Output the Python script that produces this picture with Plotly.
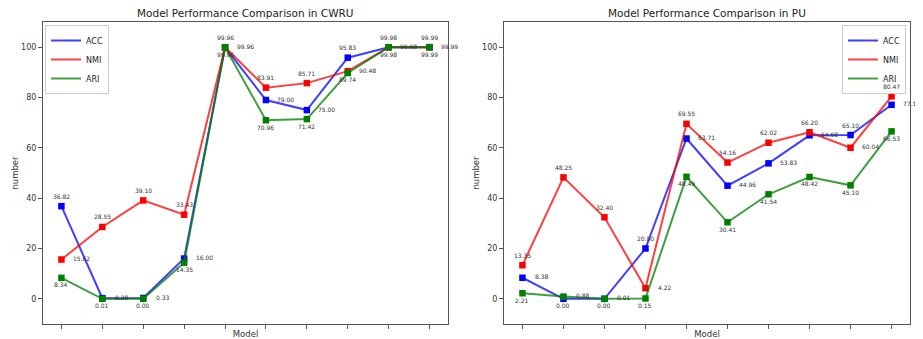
import plotly.graph_objects as go

models = list(range(10))
series_names = ["ACC", "NMI", "ARI"]
colors = {"ACC": "#0000ff", "NMI": "#ff0000", "ARI": "#008000"}

cwru_acc = [36.82, 0.28, 0.33, 16.00, 99.96, 79.00, 75.00, 95.83, 99.98, 99.99]
cwru_nmi = [15.62, 28.55, 39.10, 33.43, 99.96, 83.91, 85.71, 90.48, 99.98, 99.99]
cwru_ari = [8.34, 0.01, 0.00, 14.35, 99.96, 70.96, 71.42, 89.74, 99.98, 99.99]

pu_acc = [8.38, 0.00, 0.01, 20.00, 63.71, 44.96, 53.83, 64.98, 65.10, 77.10]
pu_nmi = [13.35, 48.25, 32.40, 4.22, 69.55, 54.16, 62.02, 66.20, 60.04, 80.47]
pu_ari = [2.21, 0.88, 0.00, 0.15, 48.49, 30.41, 41.54, 48.42, 45.10, 66.53]

y_ticks = [0, 20, 40, 60, 80, 100]

panels = [
    ("Model Performance Comparison in CWRU", {"ACC": cwru_acc, "NMI": cwru_nmi, "ARI": cwru_ari}, "x", "y", "legend"),
    ("Model Performance Comparison in PU", {"ACC": pu_acc, "NMI": pu_nmi, "ARI": pu_ari}, "x2", "y2", "legend2"),
]

# page has an 8px body margin; the figure is sized/positioned to compensate
OFF = 8
W, H = 923 - OFF, 339 - OFF


def px_x(p):
    return (p - OFF) / W


def px_y(p):
    return 1 - (p - OFF) / H


fig = go.Figure()
annotations = []
domains_x = [[px_x(43), px_x(448)], [px_x(504), px_x(910)]]
dom_y = [px_y(324), px_y(22)]

for pi, (title, data, xa, ya, lg) in enumerate(panels):
    for name in series_names:
        fig.add_trace(go.Scatter(
            x=models, y=data[name], mode="lines", name=name,
            line=dict(color=colors[name], width=2), opacity=0.75,
            xaxis=xa, yaxis=ya, legend=lg, showlegend=True))
        fig.add_trace(go.Scatter(
            x=models, y=data[name], mode="markers", name=name,
            marker=dict(color=colors[name], symbol="square", size=6.5),
            xaxis=xa, yaxis=ya, showlegend=False, hoverinfo="skip"))
    # value labels: highest above, middle to the right, lowest below
    for i in models:
        vals = sorted([(data[n][i], k, n) for k, n in enumerate(series_names)], key=lambda t: (-t[0], t[1]))
        shifts = [(0, 10), (20, 1), (0, -7)]
        for (v, k, n), (dx, dy) in zip(vals, shifts):
            annotations.append(dict(
                x=i, y=v, xref=xa, yref=ya, text=f"{v:.2f}", showarrow=False,
                xshift=dx, yshift=dy, font=dict(size=6, color="#333333")))
    cx = (domains_x[pi][0] + domains_x[pi][1]) / 2
    annotations.append(dict(x=cx, y=px_y(13), xref="paper", yref="paper", text=title,
                            showarrow=False, font=dict(size=10.5, color="#222222"),
                            xanchor="center", yanchor="middle"))

axis_common = dict(showline=True, linecolor="#555555", linewidth=1, mirror=True,
                   showgrid=False, zeroline=False, ticks="outside", ticklen=4,
                   tickcolor="#555555", tickfont=dict(size=8, color="#333333"))

layout_axes = {}
for pi in range(2):
    sx = "" if pi == 0 else "2"
    layout_axes[f"xaxis{sx}"] = dict(axis_common, domain=domains_x[pi], range=[-0.45, 9.45],
                                    tickvals=models, ticktext=["" for _ in models],
                                    anchor=f"y{sx}",
                                    title=dict(text="Model", font=dict(size=8.5, color="#333333"), standoff=5))
    layout_axes[f"yaxis{sx}"] = dict(axis_common, domain=dom_y, range=[-10, 110],
                                    tickvals=y_ticks, anchor=f"x{sx}",
                                    title=dict(text="number", font=dict(size=8.5, color="#333333"), standoff=1))

legend_common = dict(bordercolor="#cccccc", borderwidth=1, bgcolor="rgba(255,255,255,0.8)",
                     font=dict(size=8, color="#222222"), tracegroupgap=0, itemwidth=30)

fig.update_layout(
    width=W, height=H, margin=dict(l=0, r=0, t=0, b=0),
    paper_bgcolor="white", plot_bgcolor="white",
    font=dict(family="DejaVu Sans"),
    annotations=annotations,
    legend=dict(legend_common, x=px_x(45), y=px_y(25), xanchor="left", yanchor="top"),
    legend2=dict(legend_common, x=px_x(906), y=px_y(25), xanchor="right", yanchor="top"),
    **layout_axes,
)

fig.write_html("out.html")
